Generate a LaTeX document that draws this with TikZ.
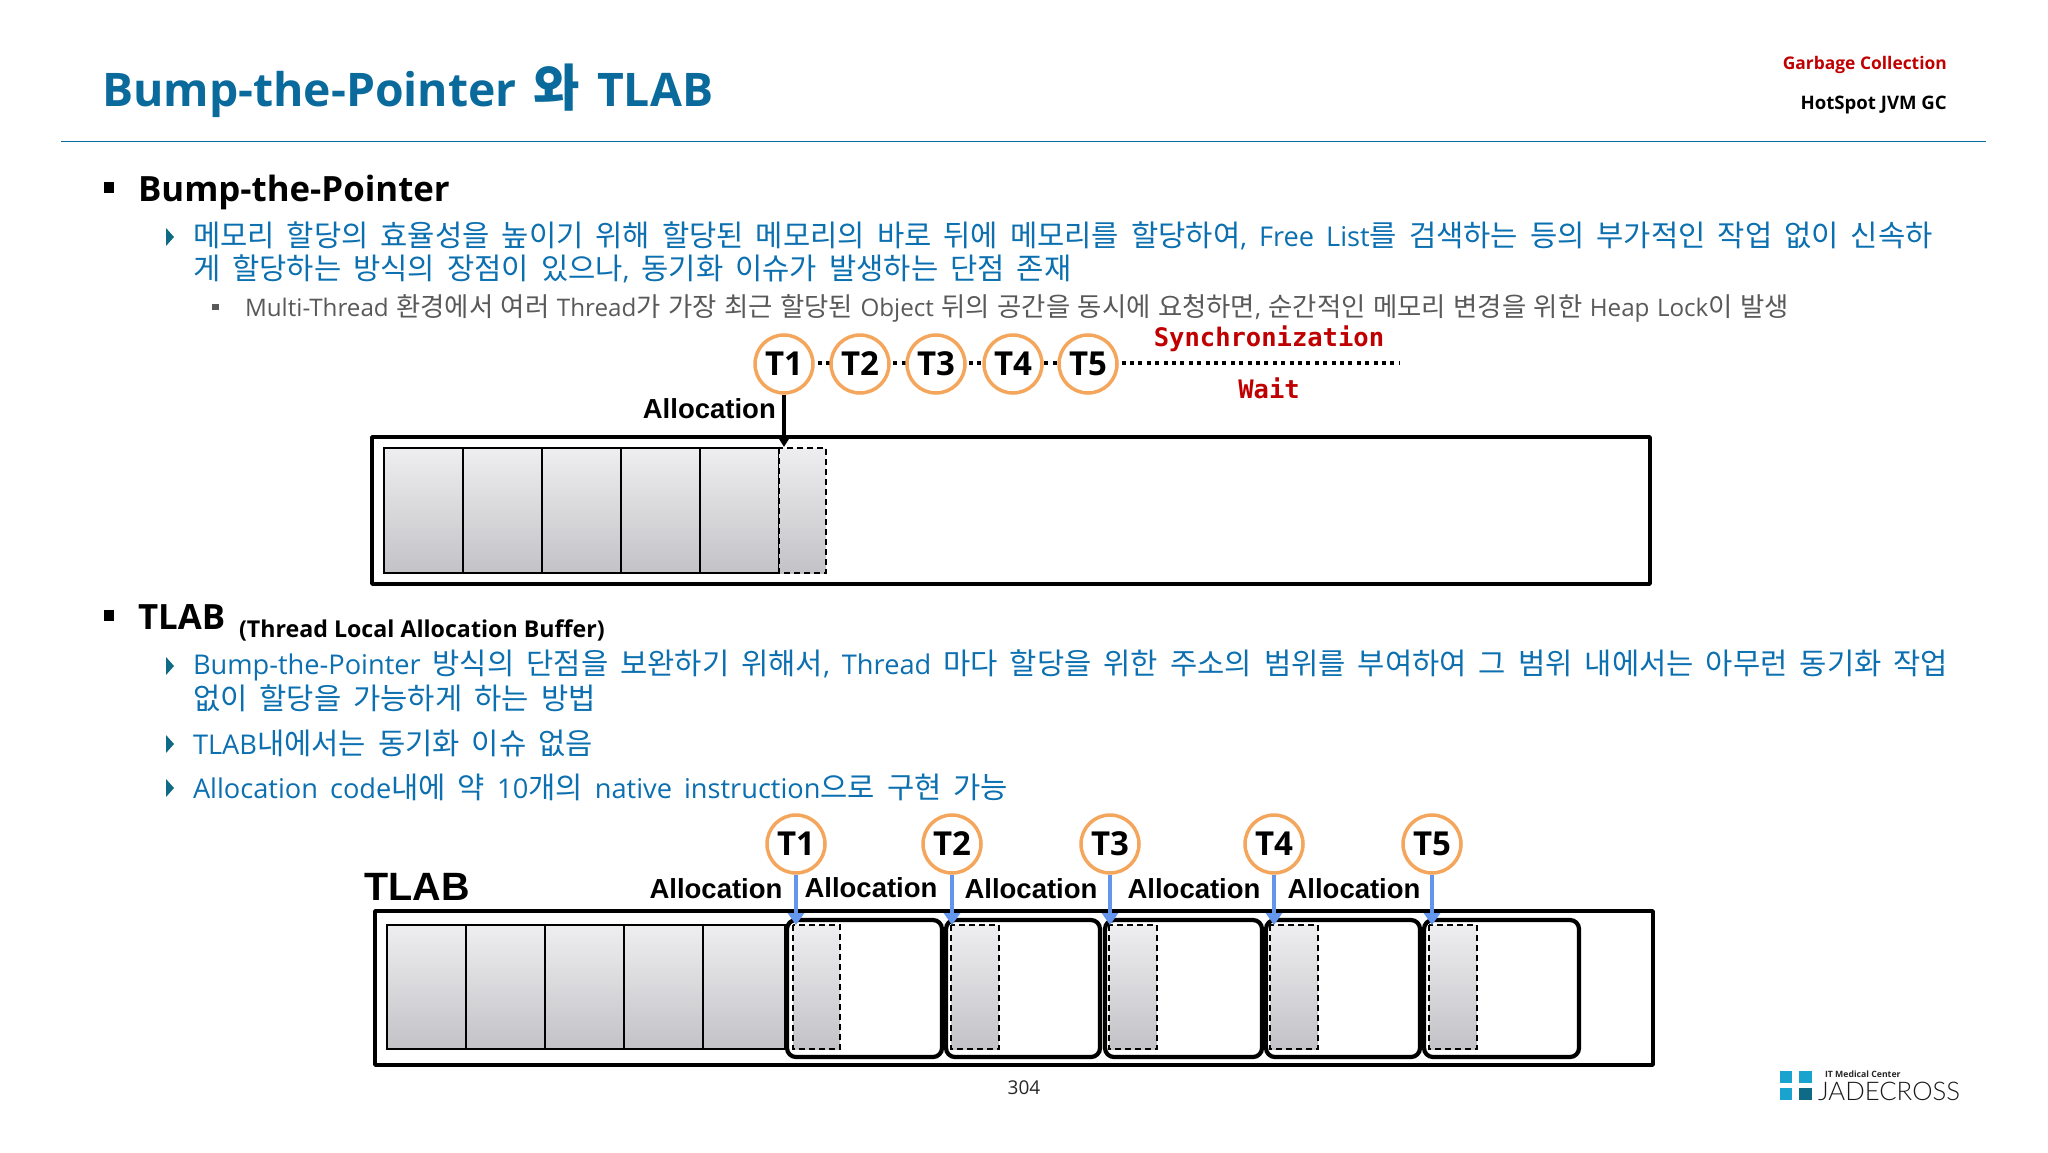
\documentclass[tikz,border=0pt]{standalone}
\usepackage{fontspec}
\setmainfont{Open Sans}
\newfontfamily\hangulfont[Scale=1.09]{Noto Sans CJK KR}
\newfontfamily\arialfont{Liberation Sans}
\newfontfamily\monofam{DejaVu Sans Mono}
\newfontfamily\logofont{Lato Light}
\newXeTeXintercharclass\hangulclass
\count255="AC00
\loop\XeTeXcharclass\count255=\hangulclass\ifnum\count255<"D7A3 \advance\count255 1 \repeat
\XeTeXinterchartokenstate=1
\XeTeXinterchartoks 0 \hangulclass={\hangulfont}
\XeTeXinterchartoks 4095 \hangulclass={\hangulfont}
\XeTeXinterchartoks \hangulclass 0={\rmfamily}
\XeTeXinterchartoks \hangulclass 4095={\rmfamily}
\newcommand\wordgap[1]{\spaceskip #1pt\relax}
\definecolor{titleblue}{HTML}{0A6A9C}
\definecolor{textblue}{HTML}{0B6FB0}
\definecolor{subgray}{HTML}{595959}
\definecolor{headred}{HTML}{C00000}
\definecolor{orangeT}{HTML}{F3A65C}
\definecolor{arrowblue}{HTML}{6496EE}
\definecolor{logoblue}{HTML}{1BA3CF}
\definecolor{logodark}{HTML}{0F6A86}
\definecolor{celltop}{HTML}{EEEEF0}
\definecolor{cellbot}{HTML}{C3C3C7}
\usetikzlibrary{arrows.meta}
\tikzset{
  txt/.style={anchor=west,inner sep=0pt,outer sep=0pt},
  lvlone/.style={txt,text=black,font=\bfseries\fontsize{34.8}{38}\selectfont},
  lvltwo/.style={txt,text=textblue,font=\fontsize{27.2}{30}\selectfont\wordgap{12}},
  lvlthree/.style={txt,text=subgray,font=\fontsize{24.2}{26}\selectfont\wordgap{7.5}},
  alloc/.style={inner sep=0pt,text=black,font=\arialfont\bfseries\fontsize{27.5}{30}\selectfont},
  thread/.style={circle,draw=orangeT,line width=3.5pt,fill=white,minimum size=58pt,inner sep=0pt,text=black,font=\bfseries\fontsize{33}{35}\selectfont},
  cell/.style={top color=celltop,bottom color=cellbot,draw=black,line width=1.3pt},
  dashcell/.style={top color=celltop,bottom color=cellbot,draw=black,line width=1.3pt,dash pattern=on 6pt off 4pt},
  outer/.style={draw=black,line width=3.5pt,line join=round},
  tlabbox/.style={draw=black,line width=4.2pt,rounded corners=9pt},
  dotline/.style={draw=black,line width=4pt,dash pattern=on 4pt off 4.4pt},
  redmono/.style={inner sep=0pt,text=headred,font=\monofam\bfseries\fontsize{25.5}{28}\selectfont},
  sqbullet/.style={fill=black},
  tribullet/.style={fill=logodark},
  allocarrow/.style={line width=3.5pt,-{Triangle[length=12pt,width=14pt]}},
  tlabarrow/.style={draw=arrowblue,line width=3.5pt,-{Triangle[length=12pt,width=16pt]}},
}
\begin{document}
\begin{tikzpicture}[x=1pt,y=-1pt]
\useasboundingbox (0,0) rectangle (2048,1152);
% header
\node[txt,text=titleblue,font=\bfseries\fontsize{46.3}{50}\selectfont\wordgap{17}] (title) at (102,91) {Bump-the-Pointer 와 TLAB};
\node[anchor=east,inner sep=0pt,text=headred,font=\bfseries\fontsize{17.4}{20}\selectfont] (hgc) at (1947,65) {Garbage Collection};
\node[anchor=east,inner sep=0pt,text=black,font=\bfseries\fontsize{18.6}{20}\selectfont] (hjvm) at (1947,105) {HotSpot JVM GC};
\draw[titleblue,line width=1.6pt] (61,141.5) -- (1986,141.5);
% section 1
\fill[sqbullet] (104,182) rectangle (114,193);
\node[lvlone] (s1) at (138,192) {Bump-the-Pointer};
\fill[tribullet] (166,228) -- (174,237) -- (166,246) -- cycle;
\node[lvltwo] (l1) at (193,236) {메모리 할당의 효율성을 높이기 위해 할당된 메모리의 바로 뒤에 메모리를 할당하여, Free List를 검색하는 등의 부가적인 작업 없이 신속하};
\node[lvltwo] (l2) at (193,269) {게 할당하는 방식의 장점이 있으나, 동기화 이슈가 발생하는 단점 존재};
\fill[subgray] (212,304) rectangle (219,310);
\node[lvlthree] (l3) at (245,308) {Multi-Thread 환경에서 여러 Thread가 가장 최근 할당된 Object 뒤의 공간을 동시에 요청하면, 순간적인 메모리 변경을 위한 Heap Lock이 발생};
% diagram 1
\draw[outer] (372,437) rectangle (1650,584);
\foreach \xa/\xb in {384/463,463/542,542/621,621/700,700/779}
  \path[cell] (\xa,448) rectangle (\xb,573);
\path[dashcell] (779,448) rectangle (826,573);
\coordinate (dotend) at (1400,363);
\coordinate (arrA) at (784,447);
\coordinate (dotstart) at (784,363);
\coordinate (dotmid) at (1088,363);
\draw[dotline] (dotstart) -- (dotmid);
\draw[dotline] (dotmid) -- (dotend);
\node[thread] (a1) at (784,364) {T1};
\node[thread] (a2) at (860,364) {T2};
\node[thread] (a3) at (936,364) {T3};
\node[thread] (a4) at (1013,364) {T4};
\node[thread] (a5) at (1088,364) {T5};
\draw[allocarrow] (a1.south) -- (arrA);
\node[alloc,anchor=east] (alA) at (776,409) {Allocation};
\node[redmono] (sync) at (1269,339) {Synchronization};
\node[redmono] (wait) at (1269,388) {Wait};
% section 2
\fill[sqbullet] (104,610) rectangle (114,621);
\node[lvlone] (s2) at (138,617) {TLAB};
\node[txt,text=black,font=\bfseries\fontsize{23.2}{25}\selectfont] (s2b) at (239,630) {(Thread Local Allocation Buffer)};
\fill[tribullet] (166,657) -- (174,666) -- (166,675) -- cycle;
\node[lvltwo] (m1) at (193,665) {Bump-the-Pointer 방식의 단점을 보완하기 위해서, Thread 마다 할당을 위한 주소의 범위를 부여하여 그 범위 내에서는 아무런 동기화 작업};
\node[lvltwo] (m2) at (193,698) {없이 할당을 가능하게 하는 방법};
\fill[tribullet] (166,735) -- (174,744) -- (166,753) -- cycle;
\node[lvltwo] (m3) at (193,743) {TLAB내에서는 동기화 이슈 없음};
\fill[tribullet] (166,779) -- (174,788) -- (166,797) -- cycle;
\node[lvltwo] (m4) at (193,787) {Allocation code내에 약 10개의 native instruction으로 구현 가능};
% diagram 2
\node[inner sep=0pt,text=black,font=\arialfont\bfseries\fontsize{39.5}{42}\selectfont] (tl) at (417,887) {TLAB};
\draw[outer] (375,911) rectangle (1653,1065);
\foreach \xa/\xb in {387/466,466/545,545/624,624/703,703/785}
  \path[cell] (\xa,925) rectangle (\xb,1049);
\foreach \xa/\xb/\da/\db in {787/942/793/840,946/1100/951/999,1105/1262/1109/1157,1266/1420/1270/1318,1424/1579/1429/1477}{
  \draw[tlabbox] (\xa,920) rectangle (\xb,1057);
  \path[dashcell] (\da,925) rectangle (\db,1049);
}
\node[thread] (b1) at (796,844) {T1};
\node[thread] (b2) at (952,844) {T2};
\node[thread] (b3) at (1110,844) {T3};
\node[thread] (b4) at (1274,844) {T4};
\node[thread] (b5) at (1432,844) {T5};
\coordinate (c1) at (796,925);
\coordinate (c2) at (952,925);
\coordinate (c3) at (1110,925);
\coordinate (c4) at (1274,925);
\coordinate (c5) at (1432,925);
\draw[tlabarrow] (b1.south) -- (c1);
\draw[tlabarrow] (b2.south) -- (c2);
\draw[tlabarrow] (b3.south) -- (c3);
\draw[tlabarrow] (b4.south) -- (c4);
\draw[tlabarrow] (b5.south) -- (c5);
\node[alloc] (p1) at (716,889) {Allocation};
\node[alloc] (p2) at (871,888) {Allocation};
\node[alloc] (p3) at (1031,889) {Allocation};
\node[alloc] (p4) at (1194,889) {Allocation};
\node[alloc] (p5) at (1354,889) {Allocation};
\node[inner sep=0pt,text=black!85,font=\fontsize{19}{22}\selectfont] (pg) at (1024,1088) {304};
% logo
\fill[logoblue] (1780,1071) rectangle (1792,1083);
\fill[logoblue] (1799,1071) rectangle (1812,1083);
\fill[logoblue] (1780,1088) rectangle (1792,1100);
\fill[logodark] (1799,1088) rectangle (1812,1100);
\node[txt,text=black!85,font=\bfseries\fontsize{8.7}{10}\selectfont] (lg1) at (1825,1074) {IT Medical Center};
\node[txt,text=black!90,font=\logofont\fontsize{25.7}{28}\selectfont] (lg2) at (1818,1091) {JADECROSS};
\end{tikzpicture}
\end{document}
